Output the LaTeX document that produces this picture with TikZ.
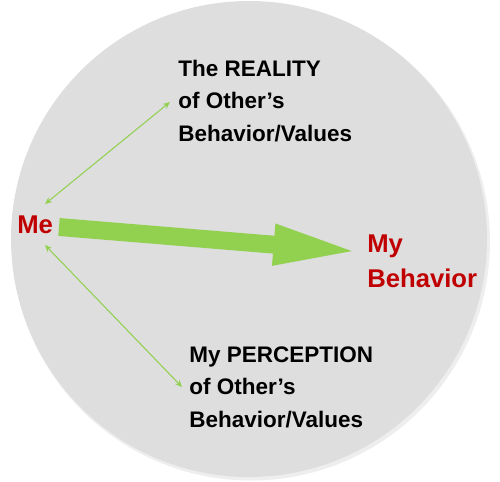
\documentclass[tikz,border=0pt]{standalone}
\usepackage{fontspec}
\setmainfont{Liberation Sans}
\usetikzlibrary{arrows.meta}
\definecolor{circgrey}{RGB}{222,222,222}
\definecolor{shadowgrey}{RGB}{238,238,238}
\definecolor{arrowgreen}{RGB}{146,208,80}
\definecolor{darkred}{RGB}{192,0,0}
\tikzset{
  blacktext/.style={anchor=base west, inner sep=0pt, font=\fontsize{12.8pt}{15pt}\selectfont\bfseries, text=black},
  redtext/.style={anchor=base west, inner sep=0pt, font=\fontsize{14.6pt}{17pt}\selectfont\bfseries, text=darkred},
  thinarrow/.style={draw=arrowgreen, line width=0.6pt, {Stealth[length=4pt,width=3.4pt]}-{Stealth[length=4pt,width=3.4pt]}},
  bigarrow/.style={draw=arrowgreen, line width=10.2pt, -{Triangle[length=51pt,width=20.5pt]}},
}
\begin{document}
\begin{tikzpicture}[x=0.02cm,y=-0.02cm]
\useasboundingbox (0,0) rectangle (500,481);
% circle with soft shadow
\fill[shadowgrey] (251,241.5) circle (239);
\fill[circgrey] (249,239) circle (238);
% texts
\node[redtext] (me) at (17,233) {Me};
\node[redtext] (my) at (367,252) {My};
\node[redtext] (behavior) at (367,287) {Behavior};
\node[blacktext] (real1) at (178,76) {The REALITY};
\node[blacktext] (real2) at (178,108.5) {of Other’s};
\node[blacktext] (real3) at (178,141) {Behavior/Values};
\node[blacktext] (perc1) at (189,362) {My PERCEPTION};
\node[blacktext] (perc2) at (189,394.5) {of Other’s};
\node[blacktext] (perc3) at (189,427) {Behavior/Values};
% connector end points
\coordinate (bigstart) at (59,227);
\coordinate (bigtip) at (363,252);
\coordinate (upme) at (45,204);
\coordinate (upreal) at (170,102);
\coordinate (downme) at (45,245);
\coordinate (downperc) at (182,387);
% connectors
\draw[bigarrow] (bigstart) -- (bigtip);
\draw[thinarrow] (upme) -- (upreal);
\draw[thinarrow] (downme) -- (downperc);
\end{tikzpicture}
\end{document}
